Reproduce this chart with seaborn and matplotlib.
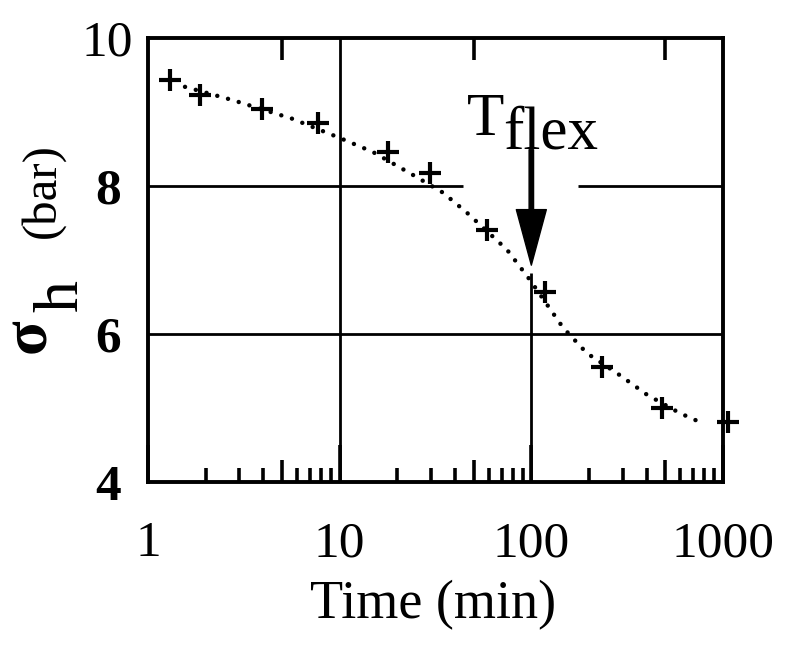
import numpy as np
import pandas as pd
import seaborn as sns
import matplotlib.pyplot as plt
from matplotlib.ticker import LogLocator, NullFormatter, NullLocator

# measured points (time in min, sigma_h in bar)
time_pts = [1.30, 1.87, 3.93, 7.71, 17.9, 29.6, 58.6, 118, 233, 480, 1062]
sigma_pts = [9.43, 9.23, 9.04, 8.85, 8.46, 8.17, 7.41, 6.57, 5.55, 5.00, 4.81]

# dotted fit curve
fit_time = [1.56, 2.77, 5.64, 10.0, 14.9, 24.1, 34.6, 46.1, 74.6, 98.4, 146, 195, 280, 401, 596, 758]
fit_sigma = [9.34, 9.16, 8.91, 8.65, 8.46, 8.15, 7.91, 7.64, 7.14, 6.73, 6.09, 5.74, 5.47, 5.18, 4.93, 4.81]

x_ticks = [1, 10, 100, 1000]
x_labels = ['1', '10', '100', '1000']
y_ticks = [4, 6, 8, 10]
y_labels = ['4', '6', '8', '10']

sns.set_theme(style='white')
plt.rcParams['font.family'] = ['Liberation Serif', 'DejaVu Serif']
plt.rcParams['text.color'] = 'black'
plt.rcParams['axes.labelcolor'] = 'black'
plt.rcParams['xtick.color'] = 'black'
plt.rcParams['ytick.color'] = 'black'

fig = plt.figure(figsize=(8, 6.65), dpi=100)
ax = fig.add_axes([148/800, 1 - 482/665, 575/800, 444/665])

df_pts = pd.DataFrame({'time': time_pts, 'sigma': sigma_pts})
df_fit = pd.DataFrame({'time': fit_time, 'sigma': fit_sigma})

sns.lineplot(data=df_fit, x='time', y='sigma', ax=ax, color='black', lw=3.2,
             linestyle=(0, (0.01, 2.5)), dash_capstyle='round', zorder=2)
sns.scatterplot(data=df_pts, x='time', y='sigma', ax=ax, marker='+', s=250,
                linewidth=3.0, color='black', clip_on=False, zorder=3)

ax.set_xscale('log')
ax.set_xlim(1, 1000)
ax.set_ylim(4, 10)

# grid lines (partly interrupted as in the original)
glw = 2.0
ax.axvline(10, color='black', lw=glw, zorder=1)
ax.vlines(100, 4, 6.82, color='black', lw=glw, zorder=1)
ax.axhline(6, color='black', lw=glw, zorder=1)
ax.hlines(8, 1, 44, color='black', lw=glw, zorder=1)
ax.hlines(8, 175, 1000, color='black', lw=glw, zorder=1)

for s in ax.spines.values():
    s.set_linewidth(2.8)
    s.set_color('black')

ax.set_xticks(x_ticks, labels=x_labels)
ax.xaxis.set_minor_locator(LogLocator(base=10, subs=(2, 3, 4, 6, 7, 8, 9)))
ax.xaxis.set_minor_formatter(NullFormatter())
ax.tick_params(axis='x', which='major', direction='in', length=27, width=2.6,
               top=True, bottom=True, pad=28, labelsize=37)
ax.tick_params(axis='x', which='minor', direction='in', length=10, width=2.6,
               top=True, bottom=True)
ax.set_yticks(y_ticks, labels=y_labels)
ax.tick_params(axis='y', which='both', length=0, pad=29, labelsize=37)
for lbl in ax.get_yticklabels():
    lbl.set_horizontalalignment('center')
    if lbl.get_text() != '10':
        lbl.set_fontweight('bold')

# longer ticks at 5, 50, 500
ax2 = ax.twiny()
ax2.set_xscale('log')
ax2.set_xlim(1, 1000)
ax2.set_xticks([5, 50, 500], labels=[])
ax2.xaxis.set_minor_locator(NullLocator())
ax2.tick_params(axis='x', direction='in', length=16, width=2.6, top=True, bottom=True,
                labeltop=False, labelbottom=False)
for s in ax2.spines.values():
    s.set_visible(False)

ax.set_xlabel('')
ax.set_ylabel('')

# T_flex annotation
ax.text(46.1, 8.69, 'T', fontsize=44, ha='left', va='baseline')
ax.text(71.1, 8.51, 'flex', fontsize=44, ha='left', va='baseline')
ax.annotate('', xy=(100, 6.93), xytext=(100, 8.49),
            arrowprops=dict(facecolor='black', edgecolor='black', width=3.2,
                            headwidth=21.6, headlength=40, shrink=0))

# axis labels
fig.text(433/800, 1 - 618/665, 'Time (min)', fontsize=39, ha='center', va='baseline')
fig.text(45/800, 1 - 353/665, 'σ', fontsize=46, fontweight='bold', rotation=90,
         rotation_mode='anchor', ha='left', va='baseline')
fig.text(77/800, 1 - 312/665, 'h', fontsize=46, rotation=90,
         rotation_mode='anchor', ha='left', va='baseline')
fig.text(54/800, 1 - 238/665, '(bar)', fontsize=35, rotation=90,
         rotation_mode='anchor', ha='left', va='baseline')

fig.savefig('out.png', dpi=100)
